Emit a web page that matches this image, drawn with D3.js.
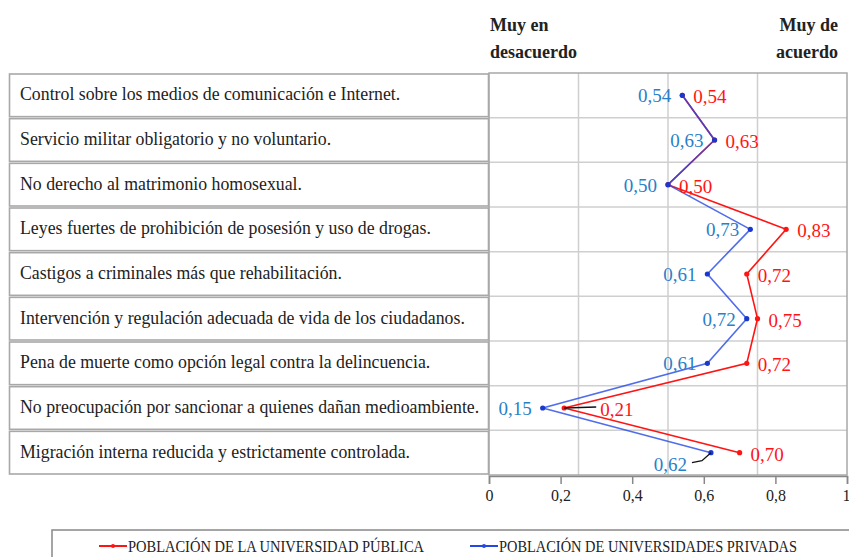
<!DOCTYPE html>
<html>
<meta charset="utf-8">
<style>
body { margin: 0; background: #fff; }
svg text { font-family: "Liberation Serif", "Times New Roman", serif; }
.grid line { stroke: #cfcfcf; stroke-width: 1.5; }
</style>
<body>
<svg id="chart" width="849" height="557"></svg>
<script src="https://d3js.org/d3.v7.min.js"></script>
<script>

var categories = [
  "Control sobre los medios de comunicación e Internet.",
  "Servicio militar obligatorio y no voluntario.",
  "No derecho al matrimonio homosexual.",
  "Leyes fuertes de prohibición de posesión y uso de drogas.",
  "Castigos a criminales más que rehabilitación.",
  "Intervención y regulación adecuada de vida de los ciudadanos.",
  "Pena de muerte como opción legal contra la delincuencia.",
  "No preocupación por sancionar a quienes dañan medioambiente.",
  "Migración interna reducida y estrictamente controlada."
];
var publica  = [0.54, 0.63, 0.50, 0.83, 0.72, 0.75, 0.72, 0.21, 0.70];
var privadas = [0.54, 0.63, 0.50, 0.73, 0.61, 0.72, 0.61, 0.15, 0.62];
var ticks = [0, 0.2, 0.4, 0.6, 0.8, 1];
var gridTicks = [0.25, 0.5, 0.75];
var seriesNames = ["POBLACIÓN DE LA UNIVERSIDAD PÚBLICA", "POBLACIÓN DE UNIVERSIDADES PRIVADAS"];

var svg = d3.select("#chart");
var top0 = 73, bottom0 = 475, left0 = 489, right0 = 847;

var x = d3.scaleLinear().domain([0, 1]).range([left0, right0]);
var y = d3.scaleBand().domain(d3.range(categories.length)).range([top0, bottom0]);
var cy = function(i) { return y(i) + y.bandwidth() / 2; };
var comma = function(v) { return d3.format(".2f")(v).replace(".", ","); };
var tickFmt = function(v) { return String(v).replace(".", ","); };

var red = "#ff1414", blue = "#2448e6", blueText = "#2a7fc8";

// header
var hdr = svg.append("g").attr("font-weight", "bold").attr("font-size", 18).attr("fill", "#222");
hdr.append("text").attr("x", 490).attr("y", 31).text("Muy en");
hdr.append("text").attr("x", 490).attr("y", 58).text("desacuerdo");
hdr.append("text").attr("x", 838).attr("y", 31).attr("text-anchor", "end").text("Muy de");
hdr.append("text").attr("x", 838).attr("y", 58).attr("text-anchor", "end").text("acuerdo");

// label boxes
var rows = svg.append("g");
rows.selectAll("rect")
  .data(categories)
  .enter().append("rect")
    .attr("x", 9.5)
    .attr("y", function(d, i) { return y(i) + 1; })
    .attr("width", left0 - 10)
    .attr("height", y.bandwidth() - 2)
    .attr("fill", "#fff")
    .attr("stroke", "#a8a8a8")
    .attr("stroke-width", 1.6);
rows.selectAll("text")
  .data(categories)
  .enter().append("text")
    .attr("x", 20)
    .attr("y", function(d, i) { return cy(i) + 5; })
    .attr("fill", "#222")
    .attr("font-size", 17.8)
    .text(function(d) { return d; });

// plot frame + grid
var grid = svg.append("g").attr("class", "grid");
grid.selectAll(".v")
  .data(gridTicks)
  .enter().append("line")
    .attr("x1", function(d) { return x(d); }).attr("x2", function(d) { return x(d); })
    .attr("y1", top0).attr("y2", bottom0);
grid.selectAll(".h")
  .data(d3.range(1, categories.length))
  .enter().append("line")
    .attr("x1", left0).attr("x2", right0)
    .attr("y1", function(i) { return y(i); }).attr("y2", function(i) { return y(i); });
svg.append("rect")
  .attr("x", left0).attr("y", top0)
  .attr("width", right0 - left0).attr("height", bottom0 - top0)
  .attr("fill", "none").attr("stroke", "#a8a8a8").attr("stroke-width", 1.5);

// x axis
var axis = svg.append("g")
  .attr("transform", "translate(0," + (bottom0 + 1) + ")")
  .call(d3.axisBottom(x).tickValues(ticks).tickSize(8).tickPadding(6).tickFormat(tickFmt))
  .attr("font-size", 16);
axis.select(".domain").attr("stroke", "#888").attr("stroke-width", 1.5);
axis.selectAll(".tick line").attr("stroke", "#888").attr("stroke-width", 1.5);
axis.selectAll(".tick text").attr("fill", "#222")
  .filter(function(d) { return d === 1; }).attr("text-anchor", "end").attr("dx", 3);

// lines
var line = d3.line()
  .x(function(d) { return x(d); })
  .y(function(d, i) { return cy(i); });

svg.append("path").datum(publica)
  .attr("d", line).attr("fill", "none").attr("stroke", red).attr("stroke-width", 1.6);
svg.append("path").datum(privadas)
  .attr("d", line).attr("fill", "none").attr("stroke", blue).attr("stroke-width", 1.6).attr("stroke-opacity", 0.8);

svg.append("g").selectAll("circle")
  .data(publica).enter().append("circle")
    .attr("cx", function(d) { return x(d); })
    .attr("cy", function(d, i) { return cy(i); })
    .attr("r", 2.6).attr("fill", red);
svg.append("g").selectAll("circle")
  .data(privadas).enter().append("circle")
    .attr("cx", function(d) { return x(d); })
    .attr("cy", function(d, i) { return cy(i); })
    .attr("r", 2.6).attr("fill", "#1838d0");

// leader lines
svg.append("path")
  .attr("d", "M" + x(publica[7]) + "," + cy(7) + "L" + (x(publica[7]) + 32) + "," + (cy(7) - 1))
  .attr("stroke", "#111").attr("stroke-width", 1.3).attr("fill", "none");
svg.append("path")
  .attr("d", "M" + x(privadas[8]) + "," + cy(8) + "L" + (x(privadas[8]) - 9) + "," + (cy(8) + 8) + "L" + (x(privadas[8]) - 19) + "," + (cy(8) + 10))
  .attr("stroke", "#111").attr("stroke-width", 1.3).attr("fill", "none");

// value labels
var redShift = function(i) { return i === 7 ? 36 : 11; };
var blueShift = function(i) { return i === 8 ? [-24, 11] : [-11, 0]; };

svg.append("g").selectAll("text")
  .data(publica).enter().append("text")
    .attr("x", function(d, i) { return x(d) + redShift(i); })
    .attr("y", function(d, i) { return cy(i) + 8; })
    .attr("fill", red)
    .attr("font-size", 19)
    .text(comma);
svg.append("g").selectAll("text")
  .data(privadas).enter().append("text")
    .attr("x", function(d, i) { return x(d) + blueShift(i)[0]; })
    .attr("y", function(d, i) { return cy(i) + 7 + blueShift(i)[1]; })
    .attr("text-anchor", "end")
    .attr("fill", blueText)
    .attr("font-size", 19)
    .text(comma);

// legend
var lg = svg.append("g");
lg.append("rect")
  .attr("x", 52).attr("y", 530).attr("width", 820).attr("height", 40)
  .attr("fill", "#fff").attr("stroke", "#888").attr("stroke-width", 1.5);
var legendItems = [
  { name: seriesNames[0], color: red, x0: 99, w: 296 },
  { name: seriesNames[1], color: blue, x0: 470, w: 298 }
];
var li = lg.selectAll(".li").data(legendItems).enter().append("g");
li.append("line")
  .attr("x1", function(d) { return d.x0; }).attr("x2", function(d) { return d.x0 + 28; })
  .attr("y1", 546).attr("y2", 546)
  .attr("stroke", function(d) { return d.color; }).attr("stroke-width", 2);
li.append("circle")
  .attr("cx", function(d) { return d.x0 + 14; }).attr("cy", 546).attr("r", 2)
  .attr("fill", function(d) { return d.color; });
li.append("text")
  .attr("x", function(d) { return d.x0 + 29; })
  .attr("y", 552)
  .attr("fill", "#222")
  .attr("font-size", 16)
  .attr("textLength", function(d) { return d.w; })
  .attr("lengthAdjust", "spacingAndGlyphs")
  .text(function(d) { return d.name; });

</script>
</body>
</html>
